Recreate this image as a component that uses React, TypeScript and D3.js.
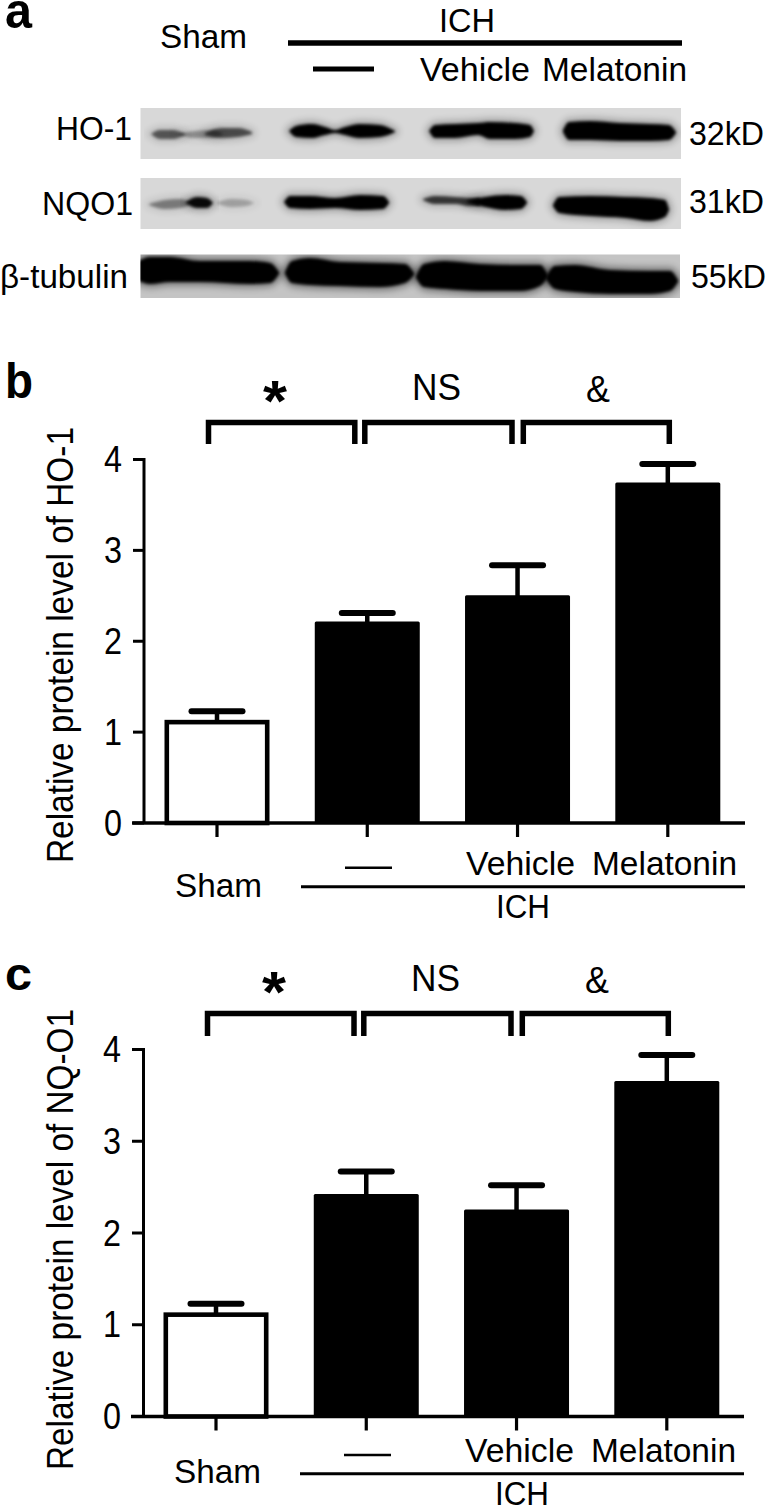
import React from "react";
import * as d3 from "d3";

const groups = ["Sham", "ICH", "Vehicle", "Melatonin"];
const yTicks = [0, 1, 2, 3, 4];
const hoValues = [1.11, 2.2, 2.49, 3.73];
const hoCaps = [1.23, 2.31, 2.835, 3.95];
const nqValues = [1.11, 2.41, 2.24, 3.64];
const nqCaps = [1.23, 2.67, 2.52, 3.94];
const sigLabels = ["*", "NS", "&"];

// Western blot band outlines: [x, upper edge, lower edge], with darkness
type Band = { dark: number; pts: number[][] };
const hoBands: Band[] = [
  { dark: 0.55, pts: [[151, 134, 134], [160, 130, 139], [172, 130, 139], [185, 134, 135]] },
  { dark: 0.3, pts: [[178, 134, 134], [195, 131, 138], [212, 130, 138], [222, 133, 135]] },
  { dark: 0.6, pts: [[205, 133, 135], [222, 128, 138], [238, 128, 137], [252, 132, 134]] },
  { dark: 1, pts: [[289, 131, 131], [296, 126, 137], [312, 124, 138], [325, 127, 135], [335, 130, 133], [345, 127, 135], [360, 124, 138], [380, 125, 137], [395, 131, 132]] },
  { dark: 1, pts: [[429, 131, 131], [435, 125, 138], [455, 124, 138], [478, 123, 135], [490, 122, 139], [515, 123, 139], [530, 125, 137], [534, 131, 131]] },
  { dark: 1, pts: [[563, 130, 132], [569, 122, 140], [590, 121, 140], [620, 123, 141], [650, 124, 141], [669, 125, 140], [676, 132, 133]] },
];
const nqBands: Band[] = [
  { dark: 0.38, pts: [[149, 204, 205], [165, 200, 209], [180, 199, 208], [190, 202, 205]] },
  { dark: 0.95, pts: [[186, 202, 203], [197, 197, 208], [207, 198, 208], [213, 203, 203]] },
  { dark: 0.22, pts: [[216, 203, 203], [232, 199, 207], [246, 200, 206], [254, 203, 203]] },
  { dark: 1, pts: [[284, 202, 202], [290, 196, 208], [310, 196, 209], [335, 198, 208], [360, 195, 210], [383, 196, 209], [389, 202, 203]] },
  { dark: 0.7, pts: [[423, 199, 200], [435, 196, 204], [455, 197, 204], [470, 198, 206], [480, 198, 206]] },
  { dark: 1, pts: [[467, 201, 202], [485, 197, 207], [505, 195, 210], [521, 196, 209], [527, 202, 203]] },
  { dark: 1, pts: [[553, 205, 206], [559, 197, 213], [590, 196, 216], [625, 197, 218], [650, 198, 221], [665, 200, 217], [669, 209, 210]] },
];
const tubulinBands: Band[] = [
  { dark: 1, pts: [[139, 261, 281], [150, 257, 284], [170, 257, 282], [200, 261, 282], [250, 261, 284], [270, 263, 283], [279, 272, 274]] },
  { dark: 1, pts: [[285, 272, 274], [292, 261, 283], [310, 258, 285], [340, 262, 286], [380, 263, 287], [405, 264, 283], [414, 273, 275]] },
  { dark: 1, pts: [[416, 276, 278], [424, 264, 287], [445, 261, 289], [480, 264, 291], [520, 265, 291], [540, 265, 286], [548, 275, 277]] },
  { dark: 1, pts: [[546, 277, 279], [555, 266, 289], [575, 265, 292], [610, 270, 294], [650, 271, 294], [670, 271, 291], [678, 280, 282]] },
];

const FONT = "'Liberation Sans', Arial, sans-serif";

function T(p: { x: number; y: number; w?: number; s?: number; rot?: boolean; bold?: boolean; a?: string; children: any }) {
  const { x, y, w, s = 33.5, rot, bold, a = "start", children } = p;
  return (
    <text
      x={rot ? 0 : x}
      y={rot ? 0 : y}
      transform={rot ? `translate(${x},${y}) rotate(-90)` : undefined}
      fontFamily={FONT}
      fontSize={s}
      fontWeight={bold ? 700 : 400}
      textAnchor={a}
      textLength={w}
      lengthAdjust={w ? "spacingAndGlyphs" : undefined}
      fill="#000"
    >
      {children}
    </text>
  );
}

const bandArea = d3
  .area<number[]>()
  .x((d) => d[0])
  .y0((d) => d[1])
  .y1((d) => d[2])
  .curve(d3.curveMonotoneX);

function Strip({ x0, x1, y0, y1, fill, bands, id, halo }: { x0: number; x1: number; y0: number; y1: number; fill: string; bands: Band[]; id: string; halo: number }) {
  return (
    <g>
      <clipPath id={id}>
        <rect x={x0} y={y0} width={x1 - x0} height={y1 - y0} />
      </clipPath>
      <rect x={x0} y={y0} width={x1 - x0} height={y1 - y0} fill={fill} />
      <g clipPath={`url(#${id})`}>
        {bands.map((b, i) => (
          <path key={"h" + i} d={bandArea(b.pts) ?? ""} fill="#000" opacity={b.dark * halo} stroke="#000" strokeWidth={7} filter="url(#haloBlur)" />
        ))}
        {bands.map((b, i) => (
          <path key={i} d={bandArea(b.pts) ?? ""} fill="#000" opacity={b.dark} filter="url(#bandBlur)" />
        ))}
      </g>
    </g>
  );
}

type Layout = {
  y4: number; y0: number; axisX: number; xs: number[]; barW: number; values: number[]; caps: number[];
  bracketTop: number; bracketBottom: number; brackets: number[][];
  title: string; titleY: number; titleW: number;
  sigY: number; off: number; dashY: number; lineY: number; catY: number; shamY: number; ichY: number;
};

function Panel({ l }: { l: Layout }) {
  const y = d3.scaleLinear().domain([0, 4]).range([l.y0, l.y4]);
  const x = d3.scalePoint<string>().domain(groups).range([l.xs[0], l.xs[1]]);
  const off = l.off;
  return (
    <g>
      <T x={73} y={l.titleY} w={l.titleW} s={36} rot>{l.title}</T>
      {l.brackets.map((b, i) => (
        <path key={i} d={`M${b[0]},${l.bracketBottom}V${l.bracketTop}H${b[1]}V${l.bracketBottom}`} fill="none" stroke="#000" strokeWidth={5.5} />
      ))}
      <T x={275 + off} y={l.sigY + 21} w={24} s={58} bold a="middle">{sigLabels[0]}</T>
      <T x={412 + off} y={l.sigY} w={49} s={37}>{sigLabels[1]}</T>
      <T x={586 + off} y={l.sigY + 1.5} w={24} s={37}>{sigLabels[2]}</T>
      {groups.map((g, i) => {
        const cx = x(g) as number;
        const top = y(l.values[i]);
        const cap = y(l.caps[i]);
        return (
          <g key={g}>
            <line x1={cx} x2={cx} y1={top} y2={cap} stroke="#000" strokeWidth={4.5} />
            <line x1={cx - 25.5} x2={cx + 25.5} y1={cap} y2={cap} stroke="#000" strokeWidth={6} strokeLinecap="round" />
            {i === 0 ? (
              <rect x={cx - l.barW / 2 + 2.3} y={top} width={l.barW - 4.6} height={l.y0 - top} fill="#fff" stroke="#000" strokeWidth={4.6} />
            ) : (
              <rect x={cx - l.barW / 2} y={top - 1.5} width={l.barW} height={l.y0 - top + 1.5} fill="#000" rx={1.5} />
            )}
            <line x1={cx} x2={cx} y1={l.y0} y2={l.y0 + 14} stroke="#000" strokeWidth={3.2} />
          </g>
        );
      })}
      <line x1={l.axisX} x2={l.axisX} y1={l.y4 - 1.5} y2={l.y0} stroke="#000" strokeWidth={3} />
      <line x1={132 + off} x2={745 + off} y1={l.y0} y2={l.y0} stroke="#000" strokeWidth={3.4} />
      {yTicks.map((t) => (
        <g key={t}>
          <line x1={133 + off} x2={l.axisX} y1={y(t)} y2={y(t)} stroke="#000" strokeWidth={3} />
          <T x={104 + off} y={y(t) + 12.5} w={18} s={36}>{t}</T>
        </g>
      ))}
      <T x={175 + off} y={l.shamY} w={87}>{groups[0]}</T>
      <line x1={345 + off} x2={392 + off} y1={l.dashY} y2={l.dashY} stroke="#000" strokeWidth={2.6} />
      <T x={466 + off} y={l.catY} w={109}>{groups[2]}</T>
      <T x={592 + off} y={l.catY} w={145}>{groups[3]}</T>
      <line x1={301 + off} x2={745 + off} y1={l.lineY} y2={l.lineY} stroke="#000" strokeWidth={3} />
      <T x={496 + off} y={l.ichY} w={54}>{groups[1]}</T>
    </g>
  );
}

const panelB: Layout = {
  y4: 459.5, y0: 823, axisX: 144, xs: [217, 667.8], barW: 105, values: hoValues, caps: hoCaps,
  bracketTop: 422.5, bracketBottom: 444,
  brackets: [[208.5, 354.8], [364.8, 512], [523.3, 669.3]],
  title: "Relative protein level of HO-1", titleY: 863, titleW: 436,
  sigY: 400, off: 0, dashY: 867.7, lineY: 886.7, catY: 875, shamY: 897, ichY: 918,
};
const panelC: Layout = {
  y4: 1049.5, y0: 1416.5, axisX: 143.5, xs: [216, 666.8], barW: 105, values: nqValues, caps: nqCaps,
  bracketTop: 1013.5, bracketBottom: 1036,
  brackets: [[207.5, 354], [363.8, 511], [522.3, 668.3]],
  title: "Relative protein level of NQ-O1", titleY: 1470, titleW: 461,
  sigY: 991, off: -1, dashY: 1455, lineY: 1473.7, catY: 1462, shamY: 1483, ichY: 1505,
};

export default function App() {
  return (
    <svg width={767} height={1507} viewBox="0 0 767 1507" style={{ position: "absolute", left: 0, top: 0, background: "#fff" }}>
      <defs>
        <filter id="bandBlur" x="-20%" y="-80%" width="140%" height="260%">
          <feGaussianBlur stdDeviation="1.7" />
        </filter>
        <filter id="haloBlur" x="-20%" y="-150%" width="140%" height="400%">
          <feGaussianBlur stdDeviation="3.5" />
        </filter>
      </defs>

      <T x={5} y={28} s={50} bold w={27}>a</T>
      <T x={160} y={48} w={87}>{groups[0]}</T>
      <T x={439} y={32} w={56}>{groups[1]}</T>
      <line x1={288} x2={682} y1={43} y2={43} stroke="#000" strokeWidth={5.5} />
      <line x1={313} x2={374} y1={69} y2={69} stroke="#000" strokeWidth={5} />
      <T x={420} y={81} w={110}>{groups[2]}</T>
      <T x={542} y={81} w={145}>{groups[3]}</T>

      <T x={56} y={140} w={76} s={33}>HO-1</T>
      <T x={42} y={215} w={91} s={33}>NQO1</T>
      <T x={0} y={288} w={128} s={33}>β-tubulin</T>
      <T x={689} y={145} w={75} s={33}>32kD</T>
      <T x={689} y={213} w={75} s={33}>31kD</T>
      <T x={691} y={288} w={75} s={33}>55kD</T>

      <Strip id="s1" x0={140.5} x1={681} y0={108} y1={159} fill="#d8d8d8" bands={hoBands} halo={0.25} />
      <Strip id="s2" x0={140.5} x1={681} y0={178} y1={229} fill="#d8d8d8" bands={nqBands} halo={0.25} />
      <Strip id="s3" x0={140.5} x1={680} y0={254.5} y1={298} fill="#c4c4c4" bands={tubulinBands} halo={0.4} />

      <T x={5} y={398} s={50} bold w={28}>b</T>
      <Panel l={panelB} />

      <T x={5} y={990} s={46} bold w={27}>c</T>
      <Panel l={panelC} />
    </svg>
  );
}
